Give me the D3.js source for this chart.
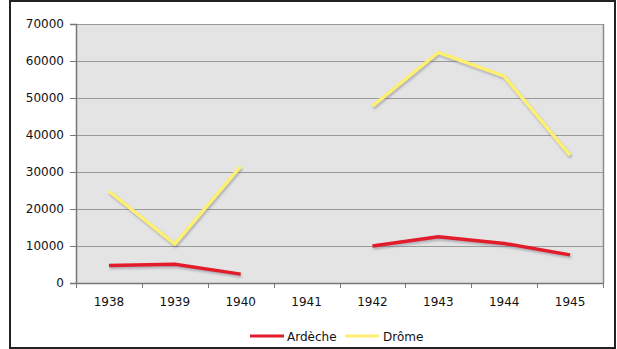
<!DOCTYPE html>
<html>
<head>
<meta charset="utf-8">
<script src="https://cdn.jsdelivr.net/npm/d3@7"></script>
<style>
  html, body { margin: 0; padding: 0; background: #fff; }
  svg { display: block; }
  text { font-family: "DejaVu Sans", Verdana, sans-serif; font-size: 12px; fill: #111; }
</style>
</head>
<body>
<svg id="chart" width="617" height="349"></svg>
<script>
// Years on the category axis
const years = ["1938", "1939", "1940", "1941", "1942", "1943", "1944", "1945"];
// Values per year; null marks a missing year (gap in the line)
const ardeche = [4700, 5050, 2400, null, 10000, 12500, 10700, 7600];
const drome = [24800, 10500, 31500, null, 47800, 62300, 55900, 34500];
const yTicks = [0, 10000, 20000, 30000, 40000, 50000, 60000, 70000];
const seriesNames = ["Ardèche", "Drôme"];
const seriesColors = ["#e21d2b", "#fcef72"];

const svg = d3.select("#chart");
const W = 617, H = 349;
const m = { left: 76, right: 14, top: 24, bottom: 66 };
const pw = W - m.left - m.right, ph = H - m.top - m.bottom;

// Outer frame
svg.append("rect").attr("x", 10).attr("y", 1).attr("width", 605).attr("height", 347)
  .attr("fill", "#fff").attr("stroke", "#222").attr("stroke-width", 2);

const g = svg.append("g").attr("transform", `translate(${m.left},${m.top})`);

const x = d3.scaleBand().domain(years).range([0, pw]);
const y = d3.scaleLinear().domain([0, 70000]).range([ph, 0]);

// Plot background
g.append("rect").attr("width", pw).attr("height", ph).attr("fill", "#e4e4e4");

// Horizontal gridlines
g.append("g").selectAll("line").data(yTicks.filter(v => v > 0)).join("line")
  .attr("x1", 0).attr("x2", pw)
  .attr("y1", d => Math.round(y(d)) + 0.5).attr("y2", d => Math.round(y(d)) + 0.5)
  .attr("stroke", "#9a9a9a").attr("stroke-width", 1.2);

// Right edge of the plot area
g.append("line").attr("x1", pw + 0.5).attr("x2", pw + 0.5).attr("y1", 0).attr("y2", ph)
  .attr("stroke", "#8a8a8a").attr("stroke-width", 1.5);

// Y axis
const yAxis = g.append("g").call(d3.axisLeft(y).tickValues(yTicks).tickSize(6).tickPadding(6).tickFormat(d3.format("d")));
yAxis.select(".domain").attr("stroke", "#777").attr("stroke-width", 1.5);
yAxis.selectAll(".tick line").attr("stroke", "#777");
yAxis.selectAll("text").attr("fill", "#111").style("font-size", "12px").style("font-family", "DejaVu Sans, Verdana, sans-serif");

// X axis: ticks on the band boundaries, labels centred in each band
const xg = g.append("g").attr("transform", `translate(0,${ph})`);
xg.append("line").attr("x1", 0).attr("x2", pw).attr("y1", 0.5).attr("y2", 0.5)
  .attr("stroke", "#777").attr("stroke-width", 1.5);
const boundaries = years.map(d => x(d)).concat([pw]);
xg.selectAll("line.tk").data(boundaries).join("line").attr("class", "tk")
  .attr("x1", d => Math.round(d) + 0.5).attr("x2", d => Math.round(d) + 0.5)
  .attr("y1", 0).attr("y2", 5).attr("stroke", "#777");
xg.selectAll("text").data(years).join("text")
  .attr("x", d => x(d) + x.bandwidth() / 2).attr("y", 23)
  .attr("text-anchor", "middle").text(d => d);

// Series lines with a soft drop shadow
const line = d3.line()
  .defined(d => d.v != null)
  .x(d => x(d.year) + x.bandwidth() / 2)
  .y(d => y(d.v));

const defs = svg.append("defs");
defs.append("filter").attr("id", "soft").append("feGaussianBlur").attr("stdDeviation", 0.8);

[ardeche, drome].forEach((vals, i) => {
  const data = years.map((yr, j) => ({ year: yr, v: vals[j] }));
  g.append("path").datum(data).attr("d", line)
    .attr("transform", "translate(1,2)")
    .attr("fill", "none").attr("stroke", "rgba(110,110,130,0.45)")
    .attr("stroke-width", 3.5).attr("stroke-linejoin", "round")
    .attr("filter", "url(#soft)");
  g.append("path").datum(data).attr("d", line)
    .attr("fill", "none").attr("stroke", seriesColors[i])
    .attr("stroke-width", 3.5).attr("stroke-linejoin", "round");
});

// Legend
const legendItems = [{ x: 250, tx: 287 }, { x: 345, tx: 383 }];
const lg = svg.append("g").attr("transform", "translate(0,336)");
legendItems.forEach((it, i) => {
  lg.append("line").attr("x1", it.x).attr("x2", it.x + 34).attr("y1", 0).attr("y2", 0)
    .attr("stroke", seriesColors[i]).attr("stroke-width", 3);
  lg.append("text").attr("x", it.tx).attr("y", 4.5).text(seriesNames[i]);
});
</script>
</body>
</html>
